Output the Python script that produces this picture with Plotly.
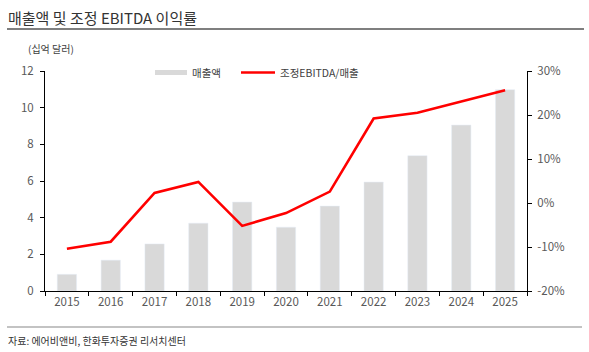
import plotly.graph_objects as go

years = ["2015", "2016", "2017", "2018", "2019", "2020", "2021", "2022", "2023", "2024", "2025"]
revenue = [0.91, 1.68, 2.57, 3.70, 4.85, 3.48, 4.63, 5.94, 7.38, 9.05, 10.98]
ebitda_margin = [-10.4, -8.8, 2.3, 4.8, -5.2, -2.3, 2.6, 19.2, 20.5, 23.1, 25.6]

left_ticks = [0, 2, 4, 6, 8, 10, 12]
right_ticks = [-20, -10, 0, 10, 20, 30]
right_labels = ["-20%", "-10%", "0%", "10%", "20%", "30%"]

FONT = "Noto Sans CJK KR"
TICK_COLOR = "#595959"

W, H = 589, 352
L, R, T, B = 45, 62, 71, 61
pw, ph = W - L - R, H - T - B

def px(x):
    return (x - L) / pw

def py(y):
    return (H - B - y) / ph

fig = go.Figure()
fig.add_trace(go.Bar(x=years, y=revenue, marker_color="#d9d9d9", width=0.44,
                     name="매출액", showlegend=False))
fig.add_trace(go.Scatter(x=years, y=ebitda_margin, yaxis="y2", mode="lines",
                         line=dict(color="#ff0000", width=2.6), name="조정EBITDA/매출",
                         showlegend=False))

fig.update_layout(
    width=W, height=H,
    margin=dict(l=L, r=R, t=T, b=B),
    paper_bgcolor="white", plot_bgcolor="white",
    font=dict(family=FONT, size=11.5, color=TICK_COLOR),
    xaxis=dict(type="category", range=[-0.5, 10.5], showline=True, linecolor="#000000",
               linewidth=1, ticks="outside", tickson="boundaries", ticklen=4,
               tickcolor="#000000", showgrid=False, tickfont=dict(size=11.5, color=TICK_COLOR)),
    yaxis=dict(range=[0, 12], tickvals=left_ticks, showline=True, linecolor="#000000",
               linewidth=1, ticks="outside", ticklen=4, tickcolor="#000000",
               ticklabelstandoff=4,
               showgrid=False, zeroline=False, tickfont=dict(size=11.5, color=TICK_COLOR)),
    yaxis2=dict(range=[-20, 30], tickvals=right_ticks, ticktext=right_labels,
                overlaying="y", side="right", showline=True, linecolor="#000000",
                linewidth=1, ticks="outside", ticklen=4, tickcolor="#000000",
                ticklabelstandoff=3,
                showgrid=False, zeroline=False, tickfont=dict(size=11.5, color=TICK_COLOR)),
    bargap=0.56,
)

shapes = [
    dict(type="line", xref="paper", yref="paper", x0=px(7), x1=px(584), y0=py(29), y1=py(29),
         line=dict(color="#555555", width=1.5)),
    dict(type="line", xref="paper", yref="paper", x0=px(7), x1=px(582), y0=py(327), y1=py(327),
         line=dict(color="#888888", width=1.2)),
    dict(type="rect", xref="paper", yref="paper", x0=px(155), x1=px(187), y0=py(75), y1=py(70),
         fillcolor="#d9d9d9", line=dict(width=0)),
    dict(type="line", xref="paper", yref="paper", x0=px(241), x1=px(275), y0=py(72.5), y1=py(72.5),
         line=dict(color="#ff0000", width=2.6)),
]
annotations = [
    dict(text="매출액 및 조정 EBITDA 이익률", xref="paper", yref="paper", x=px(6), y=py(17),
         xanchor="left", yanchor="middle", showarrow=False,
         font=dict(family=FONT, size=15, color="#333333")),
    dict(text="(십억 달러)", xref="paper", yref="paper", x=px(26), y=py(49),
         xanchor="left", yanchor="middle", showarrow=False,
         font=dict(family=FONT, size=10, color="#404040")),
    dict(text="매출액", xref="paper", yref="paper", x=px(190), y=py(72.5),
         xanchor="left", yanchor="middle", showarrow=False,
         font=dict(family=FONT, size=10.5, color="#404040")),
    dict(text="조정EBITDA/매출", xref="paper", yref="paper", x=px(278), y=py(72.5),
         xanchor="left", yanchor="middle", showarrow=False,
         font=dict(family=FONT, size=10.5, color="#404040")),
    dict(text="자료: 에어비앤비, 한화투자증권 리서치센터", xref="paper", yref="paper", x=px(6), y=py(340),
         xanchor="left", yanchor="middle", showarrow=False,
         font=dict(family=FONT, size=10, color="#333333")),
]
fig.update_layout(shapes=shapes, annotations=annotations)

fig.write_html("out.html")
